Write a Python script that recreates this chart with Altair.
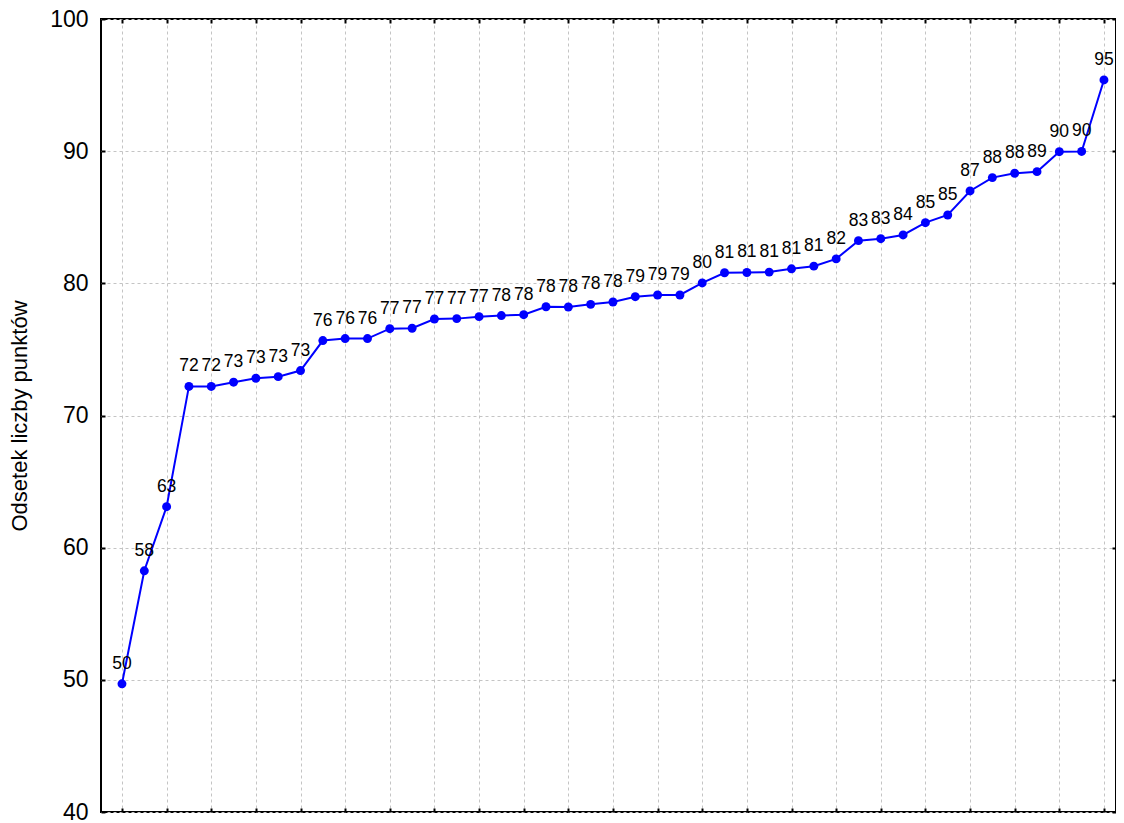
import altair as alt
import pandas as pd

values = [49.7, 58.25, 63.1, 72.2, 72.2, 72.52, 72.82, 72.94, 73.4,
          75.67, 75.82, 75.82, 76.57, 76.6, 77.3, 77.33, 77.48, 77.56, 77.63,
          78.23, 78.21, 78.41, 78.59, 78.99, 79.12, 79.12, 80.03,
          80.8, 80.82, 80.85, 81.1, 81.3, 81.85, 83.23, 83.38, 83.66,
          84.59, 85.17, 86.99, 88.0, 88.33, 88.45, 89.96, 89.98, 95.39]
labels = ["50", "58", "63", "72", "72", "73", "73", "73", "73",
          "76", "76", "76", "77", "77", "77", "77", "77", "78", "78",
          "78", "78", "78", "78", "79", "79", "79", "80",
          "81", "81", "81", "81", "81", "82", "83", "83", "84",
          "85", "85", "87", "88", "88", "89", "90", "90", "95"]
x_ticks = list(range(0, 45, 2))
y_ticks = [40, 50, 60, 70, 80, 90, 100]

df = pd.DataFrame({"i": list(range(len(values))), "v": values, "lab": labels})

FONT = "Liberation Sans"
xscale = alt.Scale(domain=[-0.94, 44.54], nice=False, zero=False)
yscale = alt.Scale(domain=[40, 100], nice=False, zero=False)

base = alt.Chart(df)

line = base.mark_line(color="#0000ff", strokeWidth=2).encode(
    x=alt.X("i:Q", scale=xscale,
            axis=alt.Axis(values=x_ticks, labels=False, title=None, domain=False,
                          offset=-4, tickSize=4, tickWidth=2, tickColor="black",
                          grid=True, gridColor="#c4c4c4", gridDash=[3, 3], gridWidth=1)),
    y=alt.Y("v:Q", scale=yscale,
            axis=alt.Axis(values=y_ticks, title="Odsetek liczby punktów", domain=False,
                          offset=-4, tickSize=4, tickWidth=2, tickColor="black",
                          labelPadding=13, labelFontSize=23, labelFont=FONT, labelColor="black",
                          titleFont=FONT, titleFontSize=22, titleFontWeight="normal",
                          titleColor="black", titlePadding=18,
                          grid=True, gridColor="#c4c4c4", gridDash=[3, 3], gridWidth=1)),
)

points = base.mark_circle(color="#0000ff", size=80, opacity=1).encode(
    x=alt.X("i:Q", scale=xscale,
            axis=alt.Axis(orient="top", values=x_ticks, labels=False, title=None, domain=False,
                          offset=-4, tickSize=4, tickWidth=2, tickColor="black", grid=False)),
    y=alt.Y("v:Q", scale=yscale,
            axis=alt.Axis(orient="right", values=y_ticks, labels=False, title=None, domain=False,
                          offset=-4, tickSize=4, tickWidth=2, tickColor="black", grid=False)),
)

text = base.mark_text(font=FONT, fontSize=17.5, color="black", baseline="alphabetic",
                      align="center", dy=-15).encode(
    x=alt.X("i:Q", scale=xscale, axis=None),
    y=alt.Y("v:Q", scale=yscale, axis=None),
    text="lab:N",
)

chart = alt.layer(line, points, text).resolve_axis(x="independent", y="independent").properties(
    width=1015, height=793,
    autosize=alt.AutoSizeParams(type="none"),
    padding={"left": 93, "top": 11, "right": 0, "bottom": 10},
    background="white",
).configure_view(stroke="black", strokeWidth=2)

chart.save("out.html", embed_options={"renderer": "svg", "actions": False})
